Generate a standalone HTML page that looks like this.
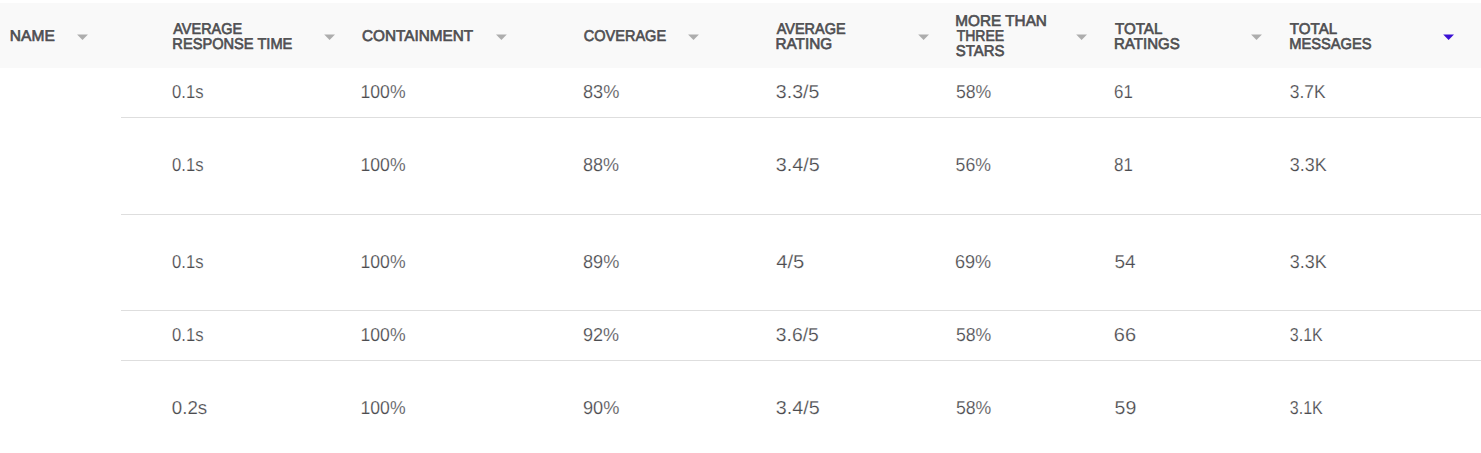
<!DOCTYPE html>
<html lang="en">
<head>
<meta charset="utf-8">
<title>Table</title>
<style>
  html, body { margin: 0; padding: 0; background: #ffffff; }
  body { width: 1481px; height: 453px; overflow: hidden; position: relative;
         font-family: "Liberation Sans", sans-serif; text-rendering: geometricPrecision; }
  .hdr { position: absolute; left: 0; top: 3px; width: 1481px; height: 65px; background: #f9f9f9; }
  .h { position: absolute; font-weight: normal; font-size: 15.5px; line-height: 20px; color: #4e4e51;
       white-space: nowrap; transform-origin: 0 50%; -webkit-text-stroke: 0.65px #4e4e51; }
  .line { position: absolute; left: 121px; right: 0; height: 1px; background: #dedede; }
  .c { position: absolute; font-size: 18.8px; line-height: 20px; color: #4c4c50; white-space: nowrap;
       transform-origin: 0 50%; -webkit-text-stroke: 0.2px #ffffff; }
  svg.arrows { position: absolute; left: 0; top: 0; }
</style>
</head>
<body>
<div class="hdr"></div>
<div class="h" style="left:9px; top:27px; transform:translateX(0.85px) scaleX(1.0028);">NAME</div>
<div class="h" style="left:173px; top:20px; transform:translateX(0.30px) scaleX(0.9322);">AVERAGE</div>
<div class="h" style="left:172px; top:35px; transform:translateX(0.35px) scaleX(0.9434);">RESPONSE TIME</div>
<div class="h" style="left:362px; top:27px; transform:translateX(0.00px) scaleX(0.9879);">CONTAINMENT</div>
<div class="h" style="left:583px; top:27px; transform:translateX(0.70px) scaleX(0.9378);">COVERAGE</div>
<div class="h" style="left:776px; top:20px; transform:translateX(0.65px) scaleX(0.9335);">AVERAGE</div>
<div class="h" style="left:775px; top:35px; transform:translateX(0.50px) scaleX(0.9864);">RATING</div>
<div class="h" style="left:955px; top:12px; transform:translateX(0.35px) scaleX(0.9872);">MORE THAN</div>
<div class="h" style="left:956px; top:27px; transform:translateX(0.65px) scaleX(0.9049);">THREE</div>
<div class="h" style="left:955px; top:42px; transform:translateX(0.75px) scaleX(0.9630);">STARS</div>
<div class="h" style="left:1115px; top:20px; transform:translateX(0.00px) scaleX(0.9753);">TOTAL</div>
<div class="h" style="left:1114px; top:35px; transform:translateX(0.00px) scaleX(0.9711);">RATINGS</div>
<div class="h" style="left:1289px; top:20px; transform:translateX(0.85px) scaleX(0.9744);">TOTAL</div>
<div class="h" style="left:1289px; top:35px; transform:translateX(0.20px) scaleX(0.9475);">MESSAGES</div>
<svg class="arrows" width="1481" height="70" viewBox="0 0 1481 70">
  <polygon points="77.1,34.5 87.9,34.5 82.50,39.9" fill="#adadad"/>
  <polygon points="324.2,34.5 335.0,34.5 329.60,39.9" fill="#adadad"/>
  <polygon points="496.0,34.5 506.8,34.5 501.40,39.9" fill="#adadad"/>
  <polygon points="688.1,34.5 698.9,34.5 693.50,39.9" fill="#adadad"/>
  <polygon points="918.2,34.5 929.0,34.5 923.60,39.9" fill="#adadad"/>
  <polygon points="1076.2,34.5 1087.0,34.5 1081.60,39.9" fill="#adadad"/>
  <polygon points="1251.1,34.5 1261.9,34.5 1256.50,39.9" fill="#adadad"/>
  <polygon points="1443.2,34.5 1454.0,34.5 1448.60,39.9" fill="#3a10d4"/>
</svg>
<div class="line" style="top:117px;"></div>
<div class="line" style="top:214px;"></div>
<div class="line" style="top:310px;"></div>
<div class="line" style="top:360px;"></div>
<div class="c" style="left:172px; top:82px; transform:translateX(0.10px) scaleX(0.8845);">0.1s</div>
<div class="c" style="left:360px; top:82px; transform:translateX(0.50px) scaleX(0.9377);">100%</div>
<div class="c" style="left:583px; top:82px; transform:translateX(0.00px) scaleX(0.9679);">83%</div>
<div class="c" style="left:775px; top:82px; transform:translateX(0.85px) scaleX(1.0401);">3.3/5</div>
<div class="c" style="left:955px; top:82px; transform:translateX(0.90px) scaleX(0.9414);">58%</div>
<div class="c" style="left:1114px; top:82px; transform:translateX(0.05px) scaleX(0.8989);">61</div>
<div class="c" style="left:1289px; top:82px; transform:translateX(0.75px) scaleX(0.9289);">3.7K</div>
<div class="c" style="left:172px; top:155px; transform:translateX(0.10px) scaleX(0.8845);">0.1s</div>
<div class="c" style="left:360px; top:155px; transform:translateX(0.50px) scaleX(0.9377);">100%</div>
<div class="c" style="left:583px; top:155px; transform:translateX(0.00px) scaleX(0.9595);">88%</div>
<div class="c" style="left:775px; top:155px; transform:translateX(0.85px) scaleX(1.0526);">3.4/5</div>
<div class="c" style="left:955px; top:155px; transform:translateX(0.55px) scaleX(0.9417);">56%</div>
<div class="c" style="left:1114px; top:155px; transform:translateX(0.05px) scaleX(0.9001);">81</div>
<div class="c" style="left:1289px; top:155px; transform:translateX(0.75px) scaleX(0.9557);">3.3K</div>
<div class="c" style="left:172px; top:252px; transform:translateX(0.10px) scaleX(0.8845);">0.1s</div>
<div class="c" style="left:360px; top:252px; transform:translateX(0.50px) scaleX(0.9377);">100%</div>
<div class="c" style="left:583px; top:252px; transform:translateX(0.00px) scaleX(0.9650);">89%</div>
<div class="c" style="left:776px; top:252px; transform:translateX(0.15px) scaleX(1.0788);">4/5</div>
<div class="c" style="left:954px; top:252px; transform:translateX(0.95px) scaleX(0.9637);">69%</div>
<div class="c" style="left:1114px; top:252px; transform:translateX(0.55px) scaleX(1.0106);">54</div>
<div class="c" style="left:1289px; top:252px; transform:translateX(0.75px) scaleX(0.9557);">3.3K</div>
<div class="c" style="left:172px; top:325px; transform:translateX(0.10px) scaleX(0.8845);">0.1s</div>
<div class="c" style="left:360px; top:325px; transform:translateX(0.50px) scaleX(0.9377);">100%</div>
<div class="c" style="left:583px; top:325px; transform:translateX(0.00px) scaleX(0.9595);">92%</div>
<div class="c" style="left:775px; top:325px; transform:translateX(0.85px) scaleX(1.0276);">3.6/5</div>
<div class="c" style="left:955px; top:325px; transform:translateX(0.90px) scaleX(0.9414);">58%</div>
<div class="c" style="left:1113px; top:325px; transform:translateX(0.80px) scaleX(1.0635);">66</div>
<div class="c" style="left:1289px; top:325px; transform:translateX(0.75px) scaleX(0.8551);">3.1K</div>
<div class="c" style="left:171px; top:398px; transform:translateX(0.85px) scaleX(0.9956);">0.2s</div>
<div class="c" style="left:360px; top:398px; transform:translateX(0.50px) scaleX(0.9377);">100%</div>
<div class="c" style="left:583px; top:398px; transform:translateX(0.00px) scaleX(0.9679);">90%</div>
<div class="c" style="left:775px; top:398px; transform:translateX(0.85px) scaleX(1.0526);">3.4/5</div>
<div class="c" style="left:955px; top:398px; transform:translateX(0.90px) scaleX(0.9414);">58%</div>
<div class="c" style="left:1114px; top:398px; transform:translateX(0.55px) scaleX(1.0369);">59</div>
<div class="c" style="left:1289px; top:398px; transform:translateX(0.75px) scaleX(0.8551);">3.1K</div>
</body>
</html>
